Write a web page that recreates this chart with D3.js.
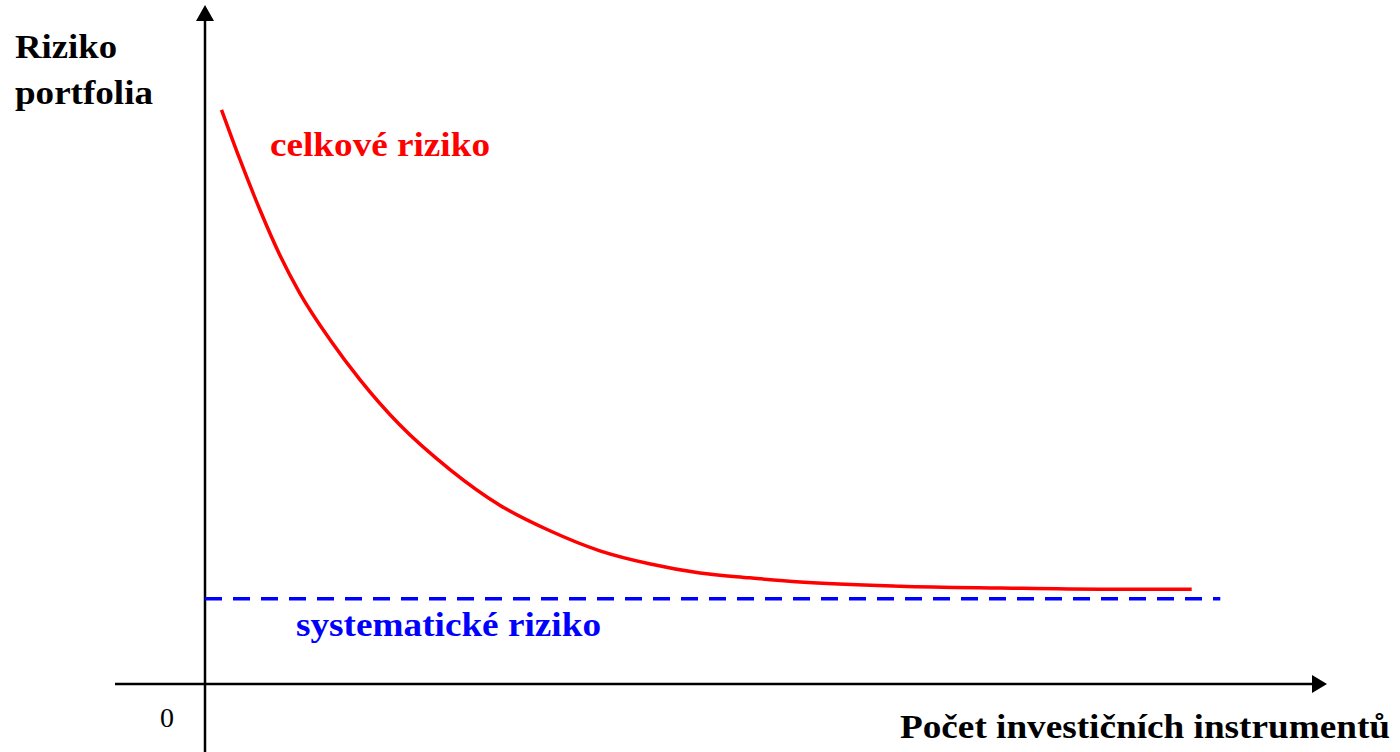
<!DOCTYPE html>
<html><head><meta charset="utf-8">
<script src="https://cdn.jsdelivr.net/npm/d3@7"></script>
<style>body{margin:0;background:#fff}svg{display:block}</style>
</head><body>
<script>
// Data
const instruments = [1.5,3.2,5.0,6.8,8.6,11.4,14.1,17.7,22.3,26.8,31.4,35.9,40.5,45.0,49.5,54.1,63.2,72.3,81.4,89.7];
const totalRisk   = [95.7,87.3,79.0,71.5,65.2,57.3,50.7,43.2,35.7,29.8,25.5,22.2,20.0,18.5,17.7,17.0,16.3,16.0,15.8,15.8];
const systematicRisk = 14.2;
const systematicRange = [0, 92.3];
const labels = {
  yTitle: ["Riziko", "portfolia"],
  xTitle: "Počet investičních instrumentů",
  total: "celkové riziko",
  systematic: "systematické riziko",
  origin: "0"
};

const W = 1400, H = 752;
const svg = d3.select("body").append("svg").attr("width", W).attr("height", H);
const x = d3.scaleLinear().domain([0, 100]).range([205, 1305]);
const y = d3.scaleLinear().domain([0, 100]).range([684, 84]);
const font = "'Liberation Serif', 'Times New Roman', serif";

// axes
svg.append("line").attr("x1", 115).attr("x2", 1312).attr("y1", y(0)).attr("y2", y(0))
  .attr("stroke", "#000").attr("stroke-width", 2.5);
svg.append("path").attr("d", `M1312,${y(0)-9} L1327,${y(0)} L1312,${y(0)+9} Z`).attr("fill", "#000");
svg.append("line").attr("x1", x(0)).attr("x2", x(0)).attr("y1", 20).attr("y2", H)
  .attr("stroke", "#000").attr("stroke-width", 2.5);
svg.append("path").attr("d", `M${x(0)-9},21 L${x(0)},5 L${x(0)+9},21 Z`).attr("fill", "#000");

// systematic risk
svg.append("line").attr("x1", x(systematicRange[0])).attr("x2", x(systematicRange[1]))
  .attr("y1", y(systematicRisk)).attr("y2", y(systematicRisk))
  .attr("stroke", "#0000ff").attr("stroke-width", 3.5).attr("stroke-dasharray", "17,11");

// total risk
const pts = instruments.map((d, i) => [d, totalRisk[i]]);
svg.append("path").datum(pts)
  .attr("d", d3.line().x(d => x(d[0])).y(d => y(d[1])).curve(d3.curveMonotoneX))
  .attr("fill", "none").attr("stroke", "#ff0000").attr("stroke-width", 3.5);

// texts
const t = (txt, px, py, len, opts = {}) => {
  const el = svg.append("text").attr("x", px).attr("y", py)
    .attr("font-family", font).attr("font-size", opts.size || 34)
    .attr("font-weight", opts.weight || "bold").attr("fill", opts.fill || "#000")
    .text(txt);
  if (len) el.attr("textLength", len).attr("lengthAdjust", "spacingAndGlyphs");
  return el;
};
t(labels.yTitle[0], 15, 58, 102);
t(labels.yTitle[1], 15, 104, 138);
t(labels.total, 270, 156, 220, {fill: "#ff0000"});
t(labels.systematic, 296, 636, 305, {fill: "#0000ff"});
t(labels.origin, 160, 727, null, {weight: "normal", size: 28});
t(labels.xTitle, 900, 738, 490);
</script>
</body></html>
